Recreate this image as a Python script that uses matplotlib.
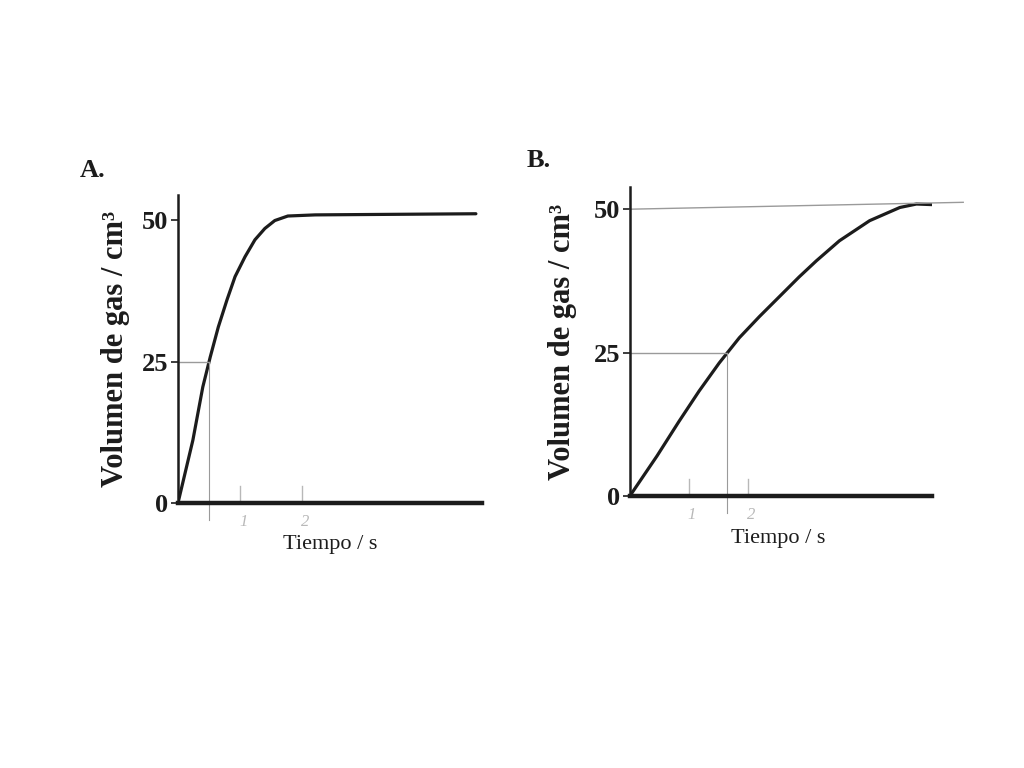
import matplotlib.pyplot as plt

# Datos (tiempo en s, volumen en cm3)
t_a = [0, 0.24, 0.40, 0.52, 0.65, 0.79, 0.92, 1.08, 1.24, 1.40, 1.56, 1.77, 2.21, 3.5, 4.8]
v_a = [0, 11.1, 20.5, 25.8, 31.1, 35.9, 40.0, 43.5, 46.5, 48.5, 49.9, 50.7, 50.9, 51.0, 51.1]

t_b = [0, 0.46, 0.83, 1.17, 1.51, 1.85, 2.19, 2.53, 2.86, 3.15, 3.54, 4.05, 4.56, 4.84, 5.1]
v_b = [0, 7.0, 13.0, 18.3, 23.2, 27.6, 31.3, 34.8, 38.2, 41.0, 44.5, 48.0, 50.3, 50.9, 50.8]

# lineas de referencia a mitad de volumen
t_half_a = 0.50
t_half_b = 1.65
ref_b_x = [0, 5.63]
ref_b_y = [50, 51.2]

y_ticks = [0, 25, 50]
marcas = [1, 2]

serif = "Liberation Serif"
negro = "#1c1c1c"
gris = "#9a9a9a"
lapiz = "#b8b8b8"

fig = plt.figure(figsize=(10.24, 7.68), dpi=100)

axA = fig.add_axes([0.1738, 0.345, 0.297, 0.401])
axB = fig.add_axes([0.615, 0.354, 0.295, 0.402])

configs = [
    (axA, t_a, v_a, t_half_a, 4.9, 54.4, "A.", (0.078, 0.77)),
    (axB, t_b, v_b, t_half_b, 5.1, 53.8, "B.", (0.514, 0.782)),
]

for ax, t, v, th, xmax, ymax, letra, pos in configs:
    ax.plot(t, v, color=negro, lw=2.3, solid_capstyle="round")
    ax.set_xlim(0, xmax)
    ax.set_ylim(0, ymax)
    ax.spines["top"].set_visible(False)
    ax.spines["right"].set_visible(False)
    ax.spines["left"].set_linewidth(1.8)
    ax.spines["bottom"].set_linewidth(3.2)
    ax.spines["left"].set_color(negro)
    ax.spines["bottom"].set_color(negro)
    ax.set_xticks([])
    ax.set_yticks(y_ticks)
    ax.set_yticklabels([str(y) for y in y_ticks], fontfamily=serif,
                       fontsize=19, fontweight="bold", color=negro)
    ax.tick_params(axis="y", length=5, width=1.2, pad=2, color=negro)

    # guias grises a 25 cm3
    ax.plot([0, th], [25, 25], color=gris, lw=1.0)
    ax.plot([th, th], [-3, 25], color=gris, lw=0.8, clip_on=False)

    # marcas a lapiz
    for m in marcas:
        ax.plot([m, m], [0, 3], color=lapiz, lw=1.0, clip_on=False)
        ax.text(m + 0.05, -3.3, str(m), ha="center", va="center", fontsize=12,
                fontstyle="italic", color=lapiz, fontfamily=serif)

    ax.set_ylabel("Volumen de gas / cm³", fontfamily=serif, fontsize=22,
                  fontweight="bold", color=negro)
    ax.set_xlabel("Tiempo / s", fontfamily=serif, fontsize=16, color=negro)
    fig.text(pos[0], pos[1], letra, fontfamily=serif, fontsize=19,
             fontweight="bold", color=negro)

axA.yaxis.set_label_coords(-0.158, 0.5)
axA.xaxis.set_label_coords(0.5, -0.105)
axB.yaxis.set_label_coords(-0.175, 0.5)
axB.xaxis.set_label_coords(0.49, -0.105)

# referencia a 50 en B
axB.plot(ref_b_x, ref_b_y, color=gris, lw=1.0, clip_on=False)

fig.savefig("out.png", dpi=100)
